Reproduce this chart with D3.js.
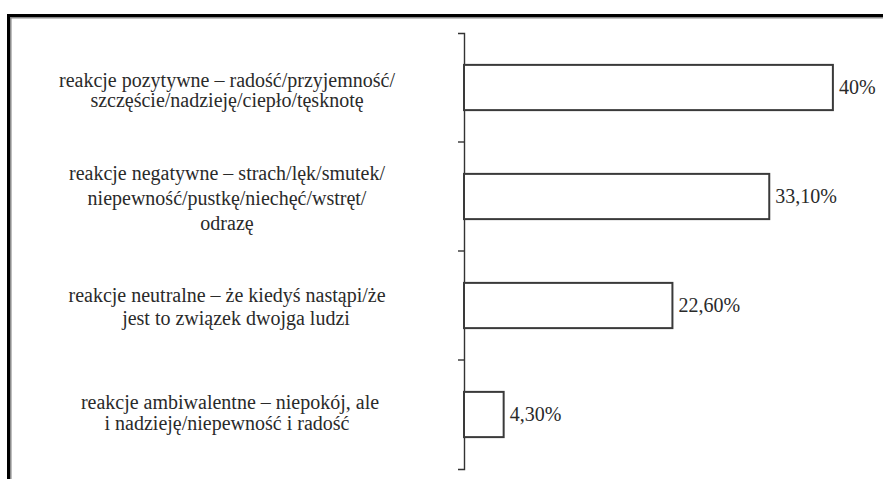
<!DOCTYPE html>
<html>
<head>
<meta charset="utf-8">
<script src="https://cdn.jsdelivr.net/npm/d3@7/dist/d3.min.js"></script>
<style>
  html, body { margin: 0; padding: 0; background: #fff; }
  svg { display: block; }
</style>
</head>
<body>
<script>
// ---- data ----
const categoryIds = ["pozytywne", "negatywne", "neutralne", "ambiwalentne"];
const categoryLines = [
  ["reakcje pozytywne – radość/przyjemność/", "szczęście/nadzieję/ciepło/tęsknotę"],
  ["reakcje negatywne – strach/lęk/smutek/", "niepewność/pustkę/niechęć/wstręt/", "odrazę"],
  ["reakcje neutralne – że kiedyś nastąpi/że", "jest to związek dwojga ludzi"],
  ["reakcje ambiwalentne – niepokój, ale", "i nadzieję/niepewność i radość"]
];
const values = [40, 33.1, 22.6, 4.3];
const valueLabels = ["40%", "33,10%", "22,60%", "4,30%"];

// ---- layout (styling only) ----
const W = 883, H = 479;
const FONT = "'Liberation Serif', Tinos, 'Times New Roman', Times, 'DejaVu Serif', serif";
const lineGaps = [20, 25, 23, 21];
const blockOffsets = [9, 8, 8, 5];
const lineIndents = [[0, 0], [0, 0, 0], [0, 9], [3, 0]];
const labelCenterX = 227;

const svg = d3.select("body").append("svg").attr("width", W).attr("height", H);

// frame
svg.append("line").attr("x1", 7).attr("x2", W).attr("y1", 15.5).attr("y2", 15.5)
  .attr("stroke", "#000").attr("stroke-width", 3);
svg.append("line").attr("x1", 10).attr("x2", W).attr("y1", 17.8).attr("y2", 17.8)
  .attr("stroke", "#888").attr("stroke-width", 1.5);
svg.append("line").attr("x1", 8.5).attr("x2", 8.5).attr("y1", 14).attr("y2", H)
  .attr("stroke", "#000").attr("stroke-width", 3);
svg.append("line").attr("x1", 10.8).attr("x2", 10.8).attr("y1", 17).attr("y2", H)
  .attr("stroke", "#888").attr("stroke-width", 1.5);

const y = d3.scaleBand().domain(categoryIds).range([33, 469]).padding(0);
const x = d3.scaleLinear().domain([0, 45]).range([464, 879]);

// axis
const axis = d3.axisLeft(y).tickSize(0).tickSizeOuter(6).tickFormat("");
const ag = svg.append("g").attr("transform", `translate(${x(0)},0)`).call(axis);
ag.select(".domain").attr("stroke", "#333").attr("stroke-width", 1.4);
ag.selectAll(".bnd").data(categoryIds.slice(1)).enter().append("line")
  .attr("class", "bnd")
  .attr("x1", -6).attr("x2", 0)
  .attr("y1", d => y(d)).attr("y2", d => y(d))
  .attr("stroke", "#333").attr("stroke-width", 1.4);

// bars
const bh = y.bandwidth() * 0.415;
svg.selectAll(".bar").data(values).enter().append("rect")
  .attr("class", "bar")
  .attr("x", x(0))
  .attr("y", (d, i) => y(categoryIds[i]) + (y.bandwidth() - bh) / 2)
  .attr("width", d => x(d) - x(0))
  .attr("height", bh)
  .attr("fill", "#fff")
  .attr("stroke", "#3a3a3a")
  .attr("stroke-width", 2);

// value labels
svg.selectAll(".val").data(values).enter().append("text")
  .attr("class", "val")
  .attr("x", d => x(d) + 6)
  .attr("y", (d, i) => y(categoryIds[i]) + y.bandwidth() / 2 + 6)
  .attr("font-family", FONT)
  .attr("font-size", 20)
  .attr("fill", "#2a2a2a")
  .text((d, i) => valueLabels[i]);

// category labels
categoryLines.forEach((lines, i) => {
  const cy = y(categoryIds[i]) + y.bandwidth() / 2 + blockOffsets[i];
  const gap = lineGaps[i];
  const t = svg.append("text")
    .attr("text-anchor", "middle")
    .attr("font-family", FONT)
    .attr("font-size", 20)
    .attr("fill", "#2a2a2a");
  lines.forEach((ln, j) => {
    t.append("tspan")
      .attr("x", labelCenterX + lineIndents[i][j])
      .attr("y", cy + (j - (lines.length - 1) / 2) * gap)
      .text(ln);
  });
});
</script>
</body>
</html>
